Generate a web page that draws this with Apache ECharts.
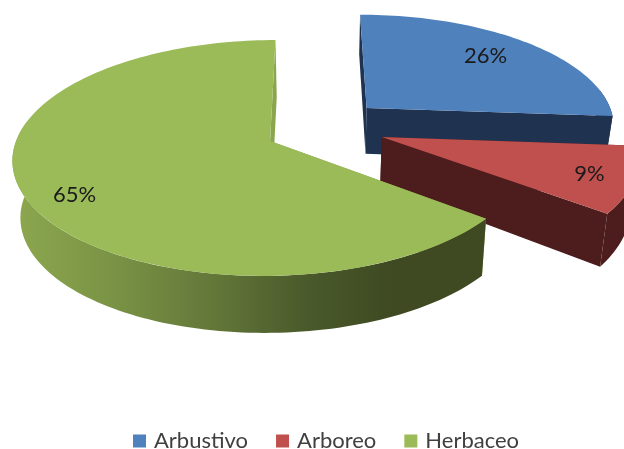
<!DOCTYPE html>
<html>
<head>
<meta charset="utf-8">
<style>html,body{margin:0;padding:0;background:#fff}#c{width:624px;height:449px}</style>
<script src="https://cdn.jsdelivr.net/npm/echarts@6/dist/echarts.min.js"></script>
</head>
<body>
<div id="c"></div>
<script>
// ---- data ----
var categories = ['Arbustivo', 'Arboreo', 'Herbaceo'];
var percentages = [26.2, 9.3, 64.5];

// ---- styles / layout ----
var topColors = ['#4F81BD', '#C0504D', '#9BBB59'];
var cutColors = ['#1F3350', '#4D1D1D', '#8AA64C'];
var FONT = 'Lato, "Open Sans", sans-serif';
// perspective of the pie plane
var VX = 313, HORIZON = -661, SCALE_Y = 802, K = 0.144, R = 254;
// mapping of the top plane on to the bottom plane of the extrusion
var DX_A = 0.9745, DX_B = 8.3;
var depthA = [1.068, 1.068, 1.0];
var depthB = [38.3, 38.3, 57];
// only this part of the outer rim faces the viewer (degrees clockwise from top)
var RIM_FROM = 80, RIM_TO = 280;
// exploded offset of each slice in pie units
var explodeX = [0.22, 0.272, -0.169];
var explodeY = [-0.298, -0.035, 0];
// label placement: fraction of radius and fine nudge
var labelR = [0.7, 0.8, 0.8];
var labelNudgeX = [5, 8, -1];
var labelNudgeY = [-5, 3, 11];

var total = percentages.reduce(function (a, b) { return a + b; }, 0);

function project(i, radius, deg) {
  var t = deg * Math.PI / 180;
  var x = explodeX[i] + radius * Math.sin(t);
  var y = explodeY[i] - radius * Math.cos(t);
  var w = 1 - K * y;
  return [VX + R * x / w, HORIZON + SCALE_Y / w];
}
function arc(i, a0, a1) {
  var pts = [], n = Math.max(4, Math.ceil(Math.abs(a1 - a0) / 1.5));
  for (var k = 0; k <= n; k++) pts.push(project(i, 1, a0 + (a1 - a0) * k / n));
  return pts;
}
function poly(points, fill) {
  return { type: 'polygon', shape: { points: points }, style: { fill: fill, stroke: null }, silent: true };
}

function makeRender(i) {
  function lower(p) { return [DX_A * p[0] + DX_B, depthA[i] * p[1] + depthB[i]]; }
  return function (params, api) {
    var before = 0;
    for (var j = 0; j < i; j++) before += percentages[j];
    var a0 = before / total * 360;
    var a1 = a0 + api.value(0) / total * 360;
    var apex = project(i, 0, 0);
    var rim = arc(i, a0, a1);
    var first = rim[0], last = rim[rim.length - 1];
    var rimFill = i === 2
      ? new echarts.graphic.LinearGradient(20, 0, 480, 0, [
          { offset: 0, color: '#8BA64E' },
          { offset: 0.2, color: '#7A9345' },
          { offset: 0.42, color: '#637739' },
          { offset: 0.62, color: '#4A5A2B' },
          { offset: 0.8, color: '#3F4A22' },
          { offset: 1, color: '#3F4A22' }
        ], true)
      : cutColors[i];
    var children = [];
    // cut faces
    children.push(poly([apex, first, lower(first), lower(apex)], cutColors[i]));
    children.push(poly([apex, last, lower(last), lower(apex)], cutColors[i]));
    // outer rim, front-facing part only
    var front = arc(i, Math.max(a0, RIM_FROM), Math.min(a1, RIM_TO));
    children.push(poly(front.concat(front.map(lower).reverse()), rimFill));
    // top face
    children.push(poly([apex].concat(rim), topColors[i]));
    // percentage label
    var mid = (a0 + a1) / 2;
    var lp = project(i, labelR[i], mid);
    children.push({
      type: 'text', silent: true,
      style: {
        text: Math.round(api.value(0)) + '%',
        x: lp[0] + labelNudgeX[i], y: lp[1] + labelNudgeY[i],
        align: 'center', verticalAlign: 'middle',
        font: '22px ' + FONT, fill: '#1a1a1a'
      }
    });
    return { type: 'group', children: children };
  };
}

var chart = echarts.init(document.getElementById('c'), null, { renderer: 'canvas' });
chart.setOption({
  animation: false,
  backgroundColor: '#fff',
  legend: {
    data: categories,
    left: 128, top: 425,
    icon: 'rect',
    itemWidth: 13, itemHeight: 13, itemGap: 28,
    selectedMode: false,
    textStyle: { fontFamily: FONT, fontSize: 22, color: '#404040', padding: [0, 0, 0, 3] }
  },
  series: categories.map(function (name, i) {
    return {
      type: 'custom',
      name: name,
      coordinateSystem: 'none',
      itemStyle: { color: topColors[i] },
      renderItem: makeRender(i),
      data: [{ name: name, value: [percentages[i]] }]
    };
  })
});
</script>
</body>
</html>
